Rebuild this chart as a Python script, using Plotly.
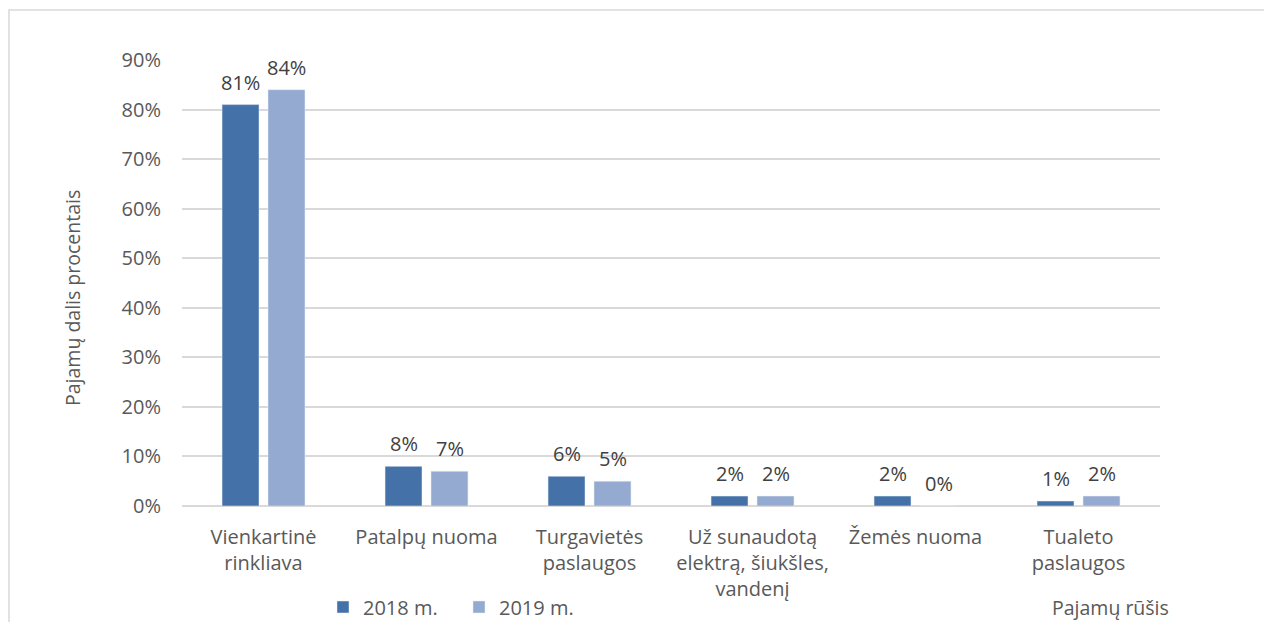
import plotly.graph_objects as go

categories = ["Vienkartinė<br>rinkliava", "Patalpų nuoma", "Turgavietės<br>paslaugos",
              "Už sunaudotą<br>elektrą, šiukšles,<br>vandenį", "Žemės nuoma", "Tualeto<br>paslaugos"]
series_names = ["2018 m.", "2019 m."]
values_2018 = [81, 8, 6, 2, 2, 1]
values_2019 = [84, 7, 5, 2, 0, 2]
colors = ["#4472A8", "#95AAD0"]
y_ticks = [0, 10, 20, 30, 40, 50, 60, 70, 80, 90]

FONT = "Open Sans"
GRAY = "#595959"
FS = 20

fig = go.Figure()
for name, vals, col in zip(series_names, [values_2018, values_2019], colors):
    fig.add_trace(go.Bar(x=categories, y=vals, name=name, marker_color=col))

W, H = 1264, 622
ml, mr, mt, mb = 182, 104, 60, 116
pw, ph = W - ml - mr, H - mt - mb

def px_x(x):
    return (x - ml) / pw

def px_y(y):
    return (H - mb - y) / ph

annotations = []
for vals, dx in zip([values_2018, values_2019], [-23, 23]):
    for c, v in zip(categories, vals):
        annotations.append(dict(text=f"{v}%", x=c, y=v, xref="x", yref="y",
                                xshift=dx, yshift=7, showarrow=False,
                                xanchor="center", yanchor="bottom",
                                font=dict(size=FS, color="#404040")))

annotations += [
    dict(text="Pajamų dalis procentais", xref="paper", yref="paper",
         x=px_x(72), y=px_y(298), textangle=-90, showarrow=False,
         xanchor="center", yanchor="middle", font=dict(size=FS - 0.5, color=GRAY)),
    dict(text="Pajamų rūšis", xref="paper", yref="paper",
         x=px_x(1110), y=px_y(607), showarrow=False,
         xanchor="center", yanchor="middle", font=dict(size=FS - 0.5, color=GRAY)),
]

fig.update_layout(
    width=W, height=H,
    margin=dict(l=ml, r=mr, t=mt, b=mb, autoexpand=False),
    paper_bgcolor="white", plot_bgcolor="white",
    barmode="group", bargap=0.436, bargroupgap=0.196,
    font=dict(family=FONT, size=FS, color=GRAY),
    showlegend=True,
    legend=dict(orientation="h", x=px_x(323), xanchor="left", y=px_y(607), yanchor="middle",
                font=dict(family=FONT, size=FS, color=GRAY), entrywidth=91,
                traceorder="normal"),
    xaxis=dict(showgrid=False, showline=False, ticks="", tickfont=dict(size=FS, color=GRAY),
               ticklabelstandoff=17, automargin=False),
    yaxis=dict(range=[0, 90], tickvals=y_ticks, ticktext=[f"{t}%" for t in y_ticks],
               showgrid=True, gridcolor="#D9D9D9", gridwidth=1.5,
               zeroline=True, zerolinecolor="#D9D9D9", zerolinewidth=1.5,
               showline=False, tickfont=dict(size=FS, color=GRAY), ticklabelstandoff=20,
               automargin=False),
    annotations=annotations,
    shapes=[
        dict(type="rect", xref="paper", yref="paper",
             x0=px_x(9), x1=px_x(1300), y0=px_y(700), y1=px_y(10),
             line=dict(color="#D9D9D9", width=1.5), fillcolor="rgba(0,0,0,0)", layer="below"),
    ],
)

fig.write_html("out.html", config={"displayModeBar": False},
               post_script="document.body.style.margin='0';document.body.style.overflow='hidden';")
